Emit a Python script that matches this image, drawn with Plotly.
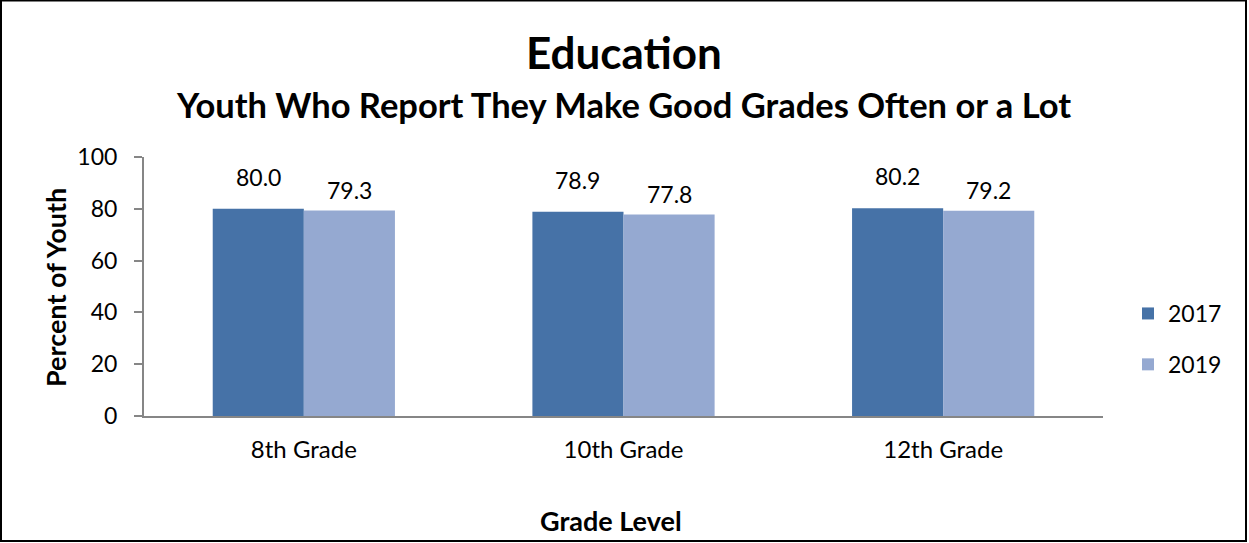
import plotly.graph_objects as go

grades = ["8th Grade", "10th Grade", "12th Grade"]
years = ["2017", "2019"]
values_2017 = [80.0, 78.9, 80.2]
values_2019 = [79.3, 77.8, 79.2]
y_ticks = [0, 20, 40, 60, 80, 100]

colors = {"2017": "#4672A7", "2019": "#95A9D1"}
FONT = "Lato, 'Open Sans', sans-serif"

W, H = 1249, 543
L, R, T, B = 144, 146, 157, 127
PW, PH = W - L - R, H - T - B


def px_x(p):
    return (p - L) / PW


def px_y(p):
    return (H - B - p) / PH


fig = go.Figure()
series = {"2017": values_2017, "2019": values_2019}
for i, yr in enumerate(years):
    fig.add_trace(go.Bar(
        x=grades, y=series[yr], name=yr,
        marker=dict(color=colors[yr], line=dict(width=0)),
        legendgroup=yr,
    ))

bar_w = PW / 3 * (1 - 0.43) / 2
for i, yr in enumerate(years):
    shift = -bar_w / 2 if i == 0 else bar_w / 2
    ysh = 32 if i == 0 else 21
    for g, v in zip(grades, series[yr]):
        fig.add_annotation(x=g, y=v, text=f"{v:.1f}", showarrow=False,
                           xshift=shift, yshift=ysh, yanchor="middle",
                           font=dict(size=23, color="black", family=FONT))

fig.add_annotation(x=0.5, y=px_y(52), xref="paper", yref="paper",
                   text="<b>Education</b>", showarrow=False,
                   xanchor="center", yanchor="middle",
                   font=dict(size=44, color="black", family=FONT))
fig.add_annotation(x=0.5, y=px_y(104), xref="paper", yref="paper",
                   text="<b>Youth Who Report They Make Good Grades Often or a Lot</b>",
                   showarrow=False, xanchor="center", yanchor="middle",
                   font=dict(size=34.5, color="black", family=FONT))
fig.add_annotation(x=px_x(55), y=px_y(288), xref="paper", yref="paper",
                   text="<b>Percent of Youth</b>", textangle=-90, showarrow=False,
                   xanchor="center", yanchor="middle",
                   font=dict(size=27, color="black", family=FONT))
fig.add_annotation(x=px_x(611), y=px_y(520), xref="paper", yref="paper",
                   text="<b>Grade Level</b>", showarrow=False,
                   xanchor="center", yanchor="middle",
                   font=dict(size=27, color="black", family=FONT))

fig.add_shape(type="rect", xref="paper", yref="paper",
              x0=px_x(1), x1=px_x(1246), y0=px_y(541), y1=px_y(0.5),
              line=dict(color="black", width=2), fillcolor="rgba(0,0,0,0)",
              layer="below")

fig.update_layout(
    width=W, height=H,
    margin=dict(l=L, r=R, t=T, b=B, autoexpand=False),
    paper_bgcolor="white", plot_bgcolor="white",
    barmode="group", bargap=0.43, bargroupgap=0,
    font=dict(family=FONT, size=23, color="black"),
    showlegend=True,
    legend=dict(x=px_x(1128), y=px_y(292), xanchor="left", yanchor="top",
                font=dict(size=23, family=FONT), tracegroupgap=18,
                bgcolor="rgba(0,0,0,0)"),
    xaxis=dict(showline=True, linecolor="#868686", linewidth=2, ticks="",
               showgrid=False, tickfont=dict(size=24, family=FONT),
               ticklabelstandoff=11),
    yaxis=dict(range=[0, 100], tickvals=y_ticks, showline=True, linecolor="#868686",
               linewidth=2, ticks="outside", ticklen=8, tickcolor="#868686",
               tickwidth=2, showgrid=False, zeroline=False,
               ticklabelstandoff=12,
               tickfont=dict(size=23, family=FONT)),
)

fig.write_html("out.html", config={"displayModeBar": False},
               post_script="document.body.style.margin='0';document.body.style.overflow='hidden';")
